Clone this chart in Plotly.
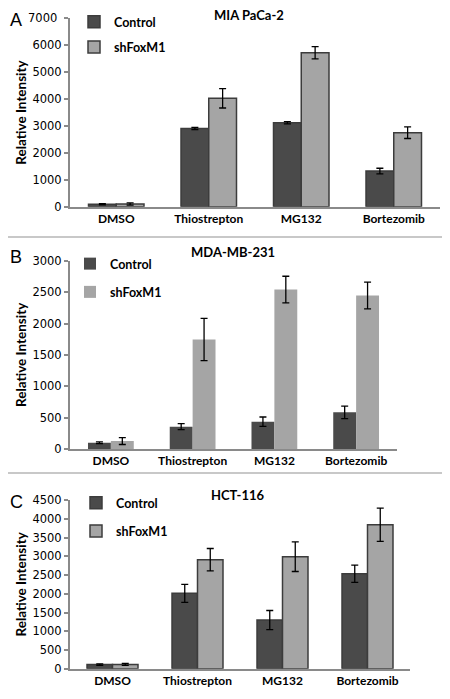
import plotly.graph_objects as go

categories = ["DMSO", "Thiostrepton", "MG132", "Bortezomib"]

# Panel A: MIA PaCa-2
a_control = [90, 2910, 3120, 1325]
a_control_err = [20, 40, 40, 105]
a_shfox = [100, 4030, 5725, 2750]
a_shfox_err = [40, 360, 230, 215]

# Panel B: MDA-MB-231
b_control = [100, 356, 435, 584]
b_control_err = [15, 48, 75, 100]
b_shfox = [127, 1746, 2542, 2447]
b_shfox_err = [55, 337, 212, 212]

# Panel C: HCT-116
c_control = [110, 2011, 1299, 2536]
c_control_err = [20, 240, 255, 230]
c_shfox = [115, 2909, 2989, 3843]
c_shfox_err = [25, 300, 395, 445]

titles = ["MIA PaCa-2", "MDA-MB-231", "HCT-116"]
panel_letters = ["A", "B", "C"]
yranges = [[0, 7005], [0, 3002], [0, 4503]]
ytickvals = [
    [0, 1000, 2000, 3000, 4000, 5000, 6000, 7000],
    [0, 500, 1000, 1500, 2000, 2500, 3000],
    [0, 500, 1000, 1500, 2000, 2500, 3000, 3500, 4000, 4500],
]

# page body has an 8px margin; the figure is sized/offset to compensate
OFF = 8
W, H = 450 - OFF, 699 - OFF
FONT = "Lato"
TICKFONT = "DejaVu Sans"
TICKSIZE = 11.5
DARK = "#4a4a4a"
LIGHT = "#a5a5a5"
OUTLINE = "#3c3c3c"
AXIS = "#8a8a8a"


def px(v):
    return v / W


def py(v):
    return 1 - v / H


# pixel boxes in page coordinates (left, right, top, bottom)
boxes = [(70, 440, 18.3, 206.7), (70, 397, 260.7, 449), (70, 410, 500, 668.7)]
bar_widths = [0.30, 0.28, 0.30]
outlined = [True, False, True]
legend_pos = [(74, 7), (70, 249), (76, 488)]
legend_gaps = [6, 9, 9]
title_x = [249, 233, 238]
title_y = [15, 252, 495]
letter_y = [8, 245, 490]

data = [
    (a_control, a_control_err, a_shfox, a_shfox_err),
    (b_control, b_control_err, b_shfox, b_shfox_err),
    (c_control, c_control_err, c_shfox, c_shfox_err),
]

fig = go.Figure()
layout = dict(
    width=W, height=H, margin=dict(l=0, r=0, t=0, b=0, pad=0, autoexpand=False),
    paper_bgcolor="white", plot_bgcolor="white",
    font=dict(family=FONT, color="#000000"),
    barmode="group", showlegend=True,
)

annotations = []
shapes = []
for i, (ctl, ctl_e, sh, sh_e) in enumerate(data):
    n = "" if i == 0 else str(i + 1)
    xa, ya = "x" + n, "y" + n
    leg = "legend" + n
    l, r, t, b = [v - OFF for v in boxes[i]]
    bw = bar_widths[i]
    line_w = 1.5 if outlined[i] else 0
    fig.add_trace(go.Bar(
        x=categories, y=ctl, name="Control", xaxis=xa, yaxis=ya, legend=leg,
        legendgroup="c" + n, width=bw, offset=-bw,
        marker=dict(color=DARK, line=dict(color=OUTLINE, width=line_w)),
        error_y=dict(type="data", array=ctl_e, color="black", thickness=1.3, width=3.5),
    ))
    fig.add_trace(go.Bar(
        x=categories, y=sh, name="shFoxM1", xaxis=xa, yaxis=ya, legend=leg,
        legendgroup="s" + n, width=bw, offset=0,
        marker=dict(color=LIGHT, line=dict(color=OUTLINE, width=line_w)),
        error_y=dict(type="data", array=sh_e, color="black", thickness=1.3, width=3.5),
    ))
    ticktext = [str(v) for v in ytickvals[i]]
    if i == 0:
        # the top label of panel A sits at the page edge, where plotly drops it;
        # it is drawn below as an annotation on the same y scale instead
        ticktext[-1] = ""
        annotations.append(dict(
            text=str(ytickvals[0][-1]), x=px(59 - OFF), y=ytickvals[0][-1],
            xref="paper", yref=ya, showarrow=False, xanchor="right", yanchor="middle",
            font=dict(family=TICKFONT, size=TICKSIZE, color="black"),
        ))
    layout["xaxis" + n] = dict(
        type="category", automargin=False,
        domain=[px(l), px(r)], anchor=ya, showgrid=False, zeroline=False,
        showline=True, linecolor=AXIS, linewidth=2, ticks="",
        tickfont=dict(family=FONT, size=12, color="black", weight="bold"),
    )
    layout["yaxis" + n] = dict(
        automargin=False, ticklabeloverflow="allow",
        domain=[py(b), py(t)], anchor=xa, range=yranges[i],
        tickmode="array", tickvals=ytickvals[i], ticktext=ticktext,
        showgrid=False, zeroline=False, showline=True, linecolor=AXIS, linewidth=2,
        ticks="outside", ticklen=4, tickcolor=AXIS, tickwidth=1.5,
        tickfont=dict(family=TICKFONT, size=TICKSIZE, color="black"),
        title=dict(text="Relative Intensity", standoff=3,
                   font=dict(family=FONT, size=13.5, color="black", weight="bold")),
    )
    layout[leg] = dict(
        x=px(legend_pos[i][0] - OFF), y=py(legend_pos[i][1] - OFF),
        xanchor="left", yanchor="top",
        bgcolor="rgba(0,0,0,0)", tracegroupgap=legend_gaps[i], itemwidth=30,
        font=dict(family=FONT, size=12.5, color="black", weight="bold"),
    )
    annotations.append(dict(
        text=titles[i], x=px(title_x[i] - OFF), y=py(title_y[i] - OFF),
        xref="paper", yref="paper", showarrow=False, yanchor="middle",
        font=dict(family=FONT, size=13, color="black", weight="bold"),
    ))
    annotations.append(dict(
        text=panel_letters[i], x=0, y=py(letter_y[i] - OFF), xref="paper", yref="paper",
        showarrow=False, xanchor="left", yanchor="top",
        font=dict(family="Liberation Sans", size=18, color="black"),
    ))

for yy in [237, 473]:
    shapes.append(dict(type="line", xref="paper", yref="paper", x0=0, x1=1,
                       y0=py(yy - OFF), y1=py(yy - OFF),
                       line=dict(color="#c8c8c8", width=2)))

layout["annotations"] = annotations
layout["shapes"] = shapes
fig.update_layout(**layout)
fig.write_html("out.html")
